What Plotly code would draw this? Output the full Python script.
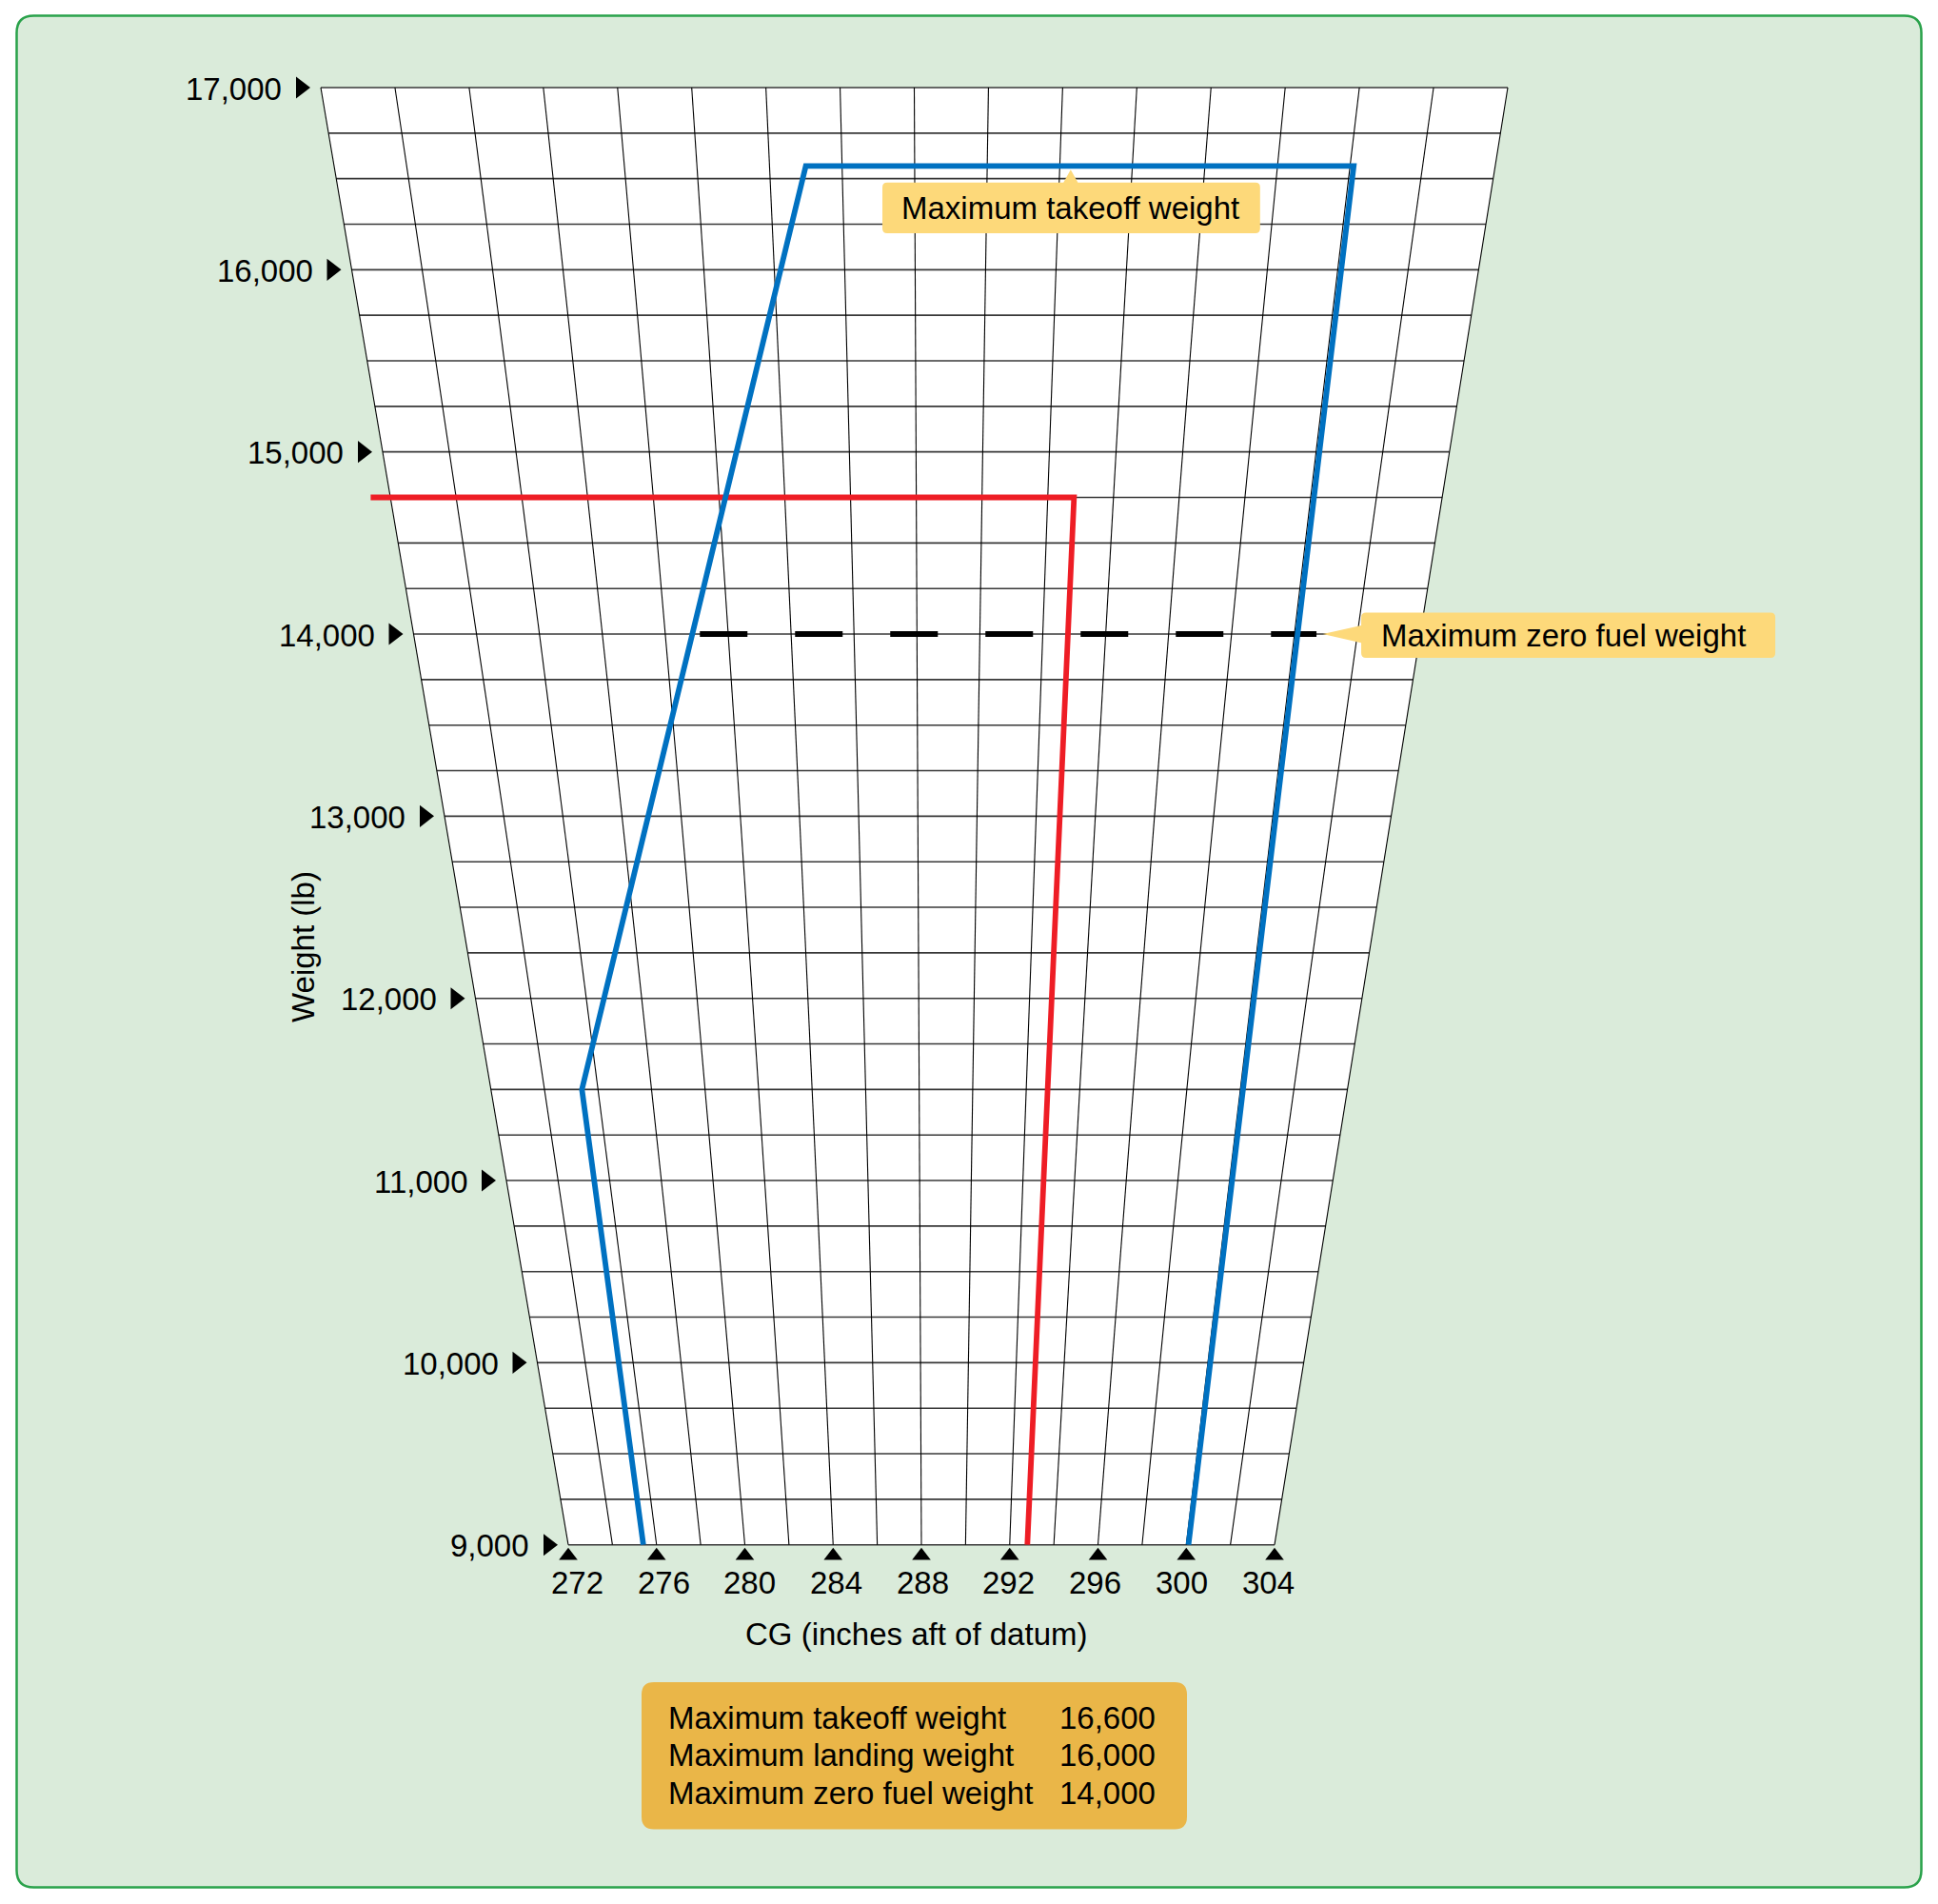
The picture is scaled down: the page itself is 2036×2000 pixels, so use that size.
import plotly.graph_objects as go

# ---------------- data ----------------
cg_tick_values = [272, 276, 280, 284, 288, 292, 296, 300, 304]
weight_tick_values = [9000, 10000, 11000, 12000, 13000, 14000, 15000, 16000, 17000]
grid_cg_values = list(range(272, 305, 2))
grid_weight_values = list(range(9000, 17001, 250))

envelope_cg = [275.4, 275.4, 285.0, 300.1, 300.1]
envelope_weight = [9000, 11500, 16570, 16570, 9000]

landing_cg = [271.4, 292.8, 292.8]
landing_weight = [14750, 14750, 9000]

zero_fuel_cg = [281.1, 300.7]
zero_fuel_weight = [14000, 14000]

takeoff_callout_cg = 292.3
takeoff_callout_weight = 16570

limit_labels = ["Maximum takeoff weight", "Maximum landing weight", "Maximum zero fuel weight"]
limit_values = [16600, 16000, 14000]

# ---------------- layout geometry ----------------
# the page body has an 8px margin, so the figure is placed 8px in from the window corner
OFF = 8
FIG_W, FIG_H = 2020, 1984
CG_MIN, CG_MAX = 272, 304
W_MIN, W_MAX = 9000, 17000
BOTTOM_PX_Y, TOP_PX_Y = 1622.7 - OFF, 92.0 - OFF
BOTTOM_LEFT, BOTTOM_WIDTH = 597.0 - OFF, 742.0
TOP_LEFT, TOP_WIDTH = 337.0 - OFF, 1247.0

PX_PER_IN = BOTTOM_WIDTH / (CG_MAX - CG_MIN)
PX_PER_LB = (BOTTOM_PX_Y - TOP_PX_Y) / (W_MAX - W_MIN)

x_range = [CG_MIN - BOTTOM_LEFT / PX_PER_IN, CG_MIN + (FIG_W - BOTTOM_LEFT) / PX_PER_IN]
y_range = [W_MIN - (FIG_H - BOTTOM_PX_Y) / PX_PER_LB, W_MIN + BOTTOM_PX_Y / PX_PER_LB]

FONT = "Liberation Sans, Arial, Helvetica, sans-serif"
BLUE = "#0071C1"
RED = "#EE1D25"
PANEL_FILL = "#DAEBDA"
PANEL_LINE = "#2AA24B"
CALLOUT = "#FDD97A"
INFO_BOX = "#EAB648"


def skew_x(cg, w):
    """Map (cg, weight) to the horizontal axis of the trapezoidal chart."""
    t = (w - W_MIN) / (W_MAX - W_MIN)
    left = BOTTOM_LEFT + (TOP_LEFT - BOTTOM_LEFT) * t
    width = BOTTOM_WIDTH + (TOP_WIDTH - BOTTOM_WIDTH) * t
    px = left + (cg - CG_MIN) / (CG_MAX - CG_MIN) * width
    return CG_MIN + (px - BOTTOM_LEFT) / PX_PER_IN


def px_to_x(px):
    return px / PX_PER_IN


def px_to_y(py):
    return py / PX_PER_LB


def PX(v):
    return (v - OFF) / FIG_W


def PY(v):
    return 1 - (v - OFF) / FIG_H


def paper_round_rect(x0, y0, x1, y1, r):
    X, Y = PX, PY
    p = [
        f"M{X(x0 + r)},{Y(y0)}", f"L{X(x1 - r)},{Y(y0)}", f"Q{X(x1)},{Y(y0)} {X(x1)},{Y(y0 + r)}",
        f"L{X(x1)},{Y(y1 - r)}", f"Q{X(x1)},{Y(y1)} {X(x1 - r)},{Y(y1)}",
        f"L{X(x0 + r)},{Y(y1)}", f"Q{X(x0)},{Y(y1)} {X(x0)},{Y(y1 - r)}",
        f"L{X(x0)},{Y(y0 + r)}", f"Q{X(x0)},{Y(y0)} {X(x0 + r)},{Y(y0)}", "Z",
    ]
    return " ".join(p)


fig = go.Figure()

# white trapezoid
tx = [skew_x(CG_MIN, W_MIN), skew_x(CG_MAX, W_MIN), skew_x(CG_MAX, W_MAX), skew_x(CG_MIN, W_MAX), skew_x(CG_MIN, W_MIN)]
ty = [W_MIN, W_MIN, W_MAX, W_MAX, W_MIN]
fig.add_trace(go.Scatter(x=tx, y=ty, fill="toself", fillcolor="white", mode="lines",
                         line=dict(width=0), hoverinfo="skip", showlegend=False))

# horizontal grid lines
hx, hy = [], []
for w in grid_weight_values:
    hx += [skew_x(CG_MIN, w), skew_x(CG_MAX, w), None]
    hy += [w, w, None]
fig.add_trace(go.Scatter(x=hx, y=hy, mode="lines", line=dict(color="#383838", width=1.6),
                         hoverinfo="skip", showlegend=False))

# vertical (constant CG) grid lines
vx, vy = [], []
for c in grid_cg_values:
    vx += [skew_x(c, W_MIN), skew_x(c, W_MAX), None]
    vy += [W_MIN, W_MAX, None]
fig.add_trace(go.Scatter(x=vx, y=vy, mode="lines", line=dict(color="black", width=1.1),
                         hoverinfo="skip", showlegend=False))

# maximum zero fuel weight (dashed)
fig.add_trace(go.Scatter(x=[skew_x(c, w) for c, w in zip(zero_fuel_cg, zero_fuel_weight)], y=zero_fuel_weight,
                         mode="lines", line=dict(color="black", width=6, dash="50px,50px"),
                         hoverinfo="skip", showlegend=False))

# landing limit (red)
fig.add_trace(go.Scatter(x=[skew_x(c, w) for c, w in zip(landing_cg, landing_weight)], y=landing_weight,
                         mode="lines", line=dict(color=RED, width=5.8),
                         hoverinfo="skip", showlegend=False))

# CG envelope (blue)
fig.add_trace(go.Scatter(x=[skew_x(c, w) for c, w in zip(envelope_cg, envelope_weight)], y=envelope_weight,
                         mode="lines", line=dict(color=BLUE, width=5.8),
                         hoverinfo="skip", showlegend=False))

# y tick triangles
fig.add_trace(go.Scatter(x=[skew_x(CG_MIN, w) - px_to_x(21) for w in weight_tick_values], y=weight_tick_values,
                         mode="markers", marker=dict(symbol="triangle-right", size=20, color="black"),
                         hoverinfo="skip", showlegend=False))

# x tick triangles
fig.add_trace(go.Scatter(x=[skew_x(c, W_MIN) for c in cg_tick_values], y=[W_MIN - px_to_y(11.5)] * len(cg_tick_values),
                         mode="markers", marker=dict(symbol="triangle-up", size=17, color="black"),
                         hoverinfo="skip", showlegend=False))

annotations = []
for w in weight_tick_values:
    annotations.append(dict(x=skew_x(CG_MIN, w), y=w, xref="x", yref="y", text=f"{w:,}",
                            xanchor="right", yanchor="middle", xshift=-39, yshift=-1, showarrow=False,
                            font=dict(size=33, color="black", family=FONT)))

LABEL_ROW_LEFT, LABEL_ROW_WIDTH = 606.3 - OFF, 725.7
for c in cg_tick_values:
    px = LABEL_ROW_LEFT + (c - CG_MIN) / (CG_MAX - CG_MIN) * LABEL_ROW_WIDTH
    annotations.append(dict(x=CG_MIN + px_to_x(px - BOTTOM_LEFT), y=W_MIN, xref="x", yref="y", text=str(c),
                            xanchor="center", yanchor="middle", yshift=-40, showarrow=False,
                            font=dict(size=33, color="black", family=FONT)))

annotations.append(dict(x=PX(962), y=PY(1716), xref="paper", yref="paper",
                        text="CG (inches aft of datum)", showarrow=False, xanchor="center", yanchor="middle",
                        font=dict(size=33, color="black", family=FONT)))
annotations.append(dict(x=PX(318), y=PY(995), xref="paper", yref="paper",
                        text="Weight (lb)", textangle=-90, showarrow=False, xanchor="center", yanchor="middle",
                        font=dict(size=33, color="black", family=FONT)))

shapes = []
# background panel
shapes.append(dict(type="path", xref="paper", yref="paper", layer="below",
                   path=paper_round_rect(17.5, 16.5, 2018.5, 1982.5, 18),
                   fillcolor=PANEL_FILL, line=dict(color=PANEL_LINE, width=2.5)))

# takeoff callout (pixel offsets relative to anchor point on the envelope, y up)
ax_t = skew_x(takeoff_callout_cg, takeoff_callout_weight)
L, R, T, B, r = -197.8, 199.0, -17.4, -70.7, 5
tpath = (f"M{L + r},{T} L-7.6,{T} L0,-4 L7.6,{T} L{R - r},{T} Q{R},{T} {R},{T - r} "
         f"L{R},{B + r} Q{R},{B} {R - r},{B} L{L + r},{B} Q{L},{B} {L},{B + r} "
         f"L{L},{T - r} Q{L},{T} {L + r},{T} Z")
shapes.append(dict(type="path", xref="x", yref="y", xsizemode="pixel", ysizemode="pixel",
                   xanchor=ax_t, yanchor=takeoff_callout_weight, path=tpath,
                   fillcolor=CALLOUT, line=dict(width=0), layer="above"))
annotations.append(dict(x=ax_t, y=takeoff_callout_weight, xref="x", yref="y", text="Maximum takeoff weight",
                        xshift=0, yshift=-44, showarrow=False, xanchor="center", yanchor="middle",
                        font=dict(size=33, color="black", family=FONT)))

# zero fuel callout
ax_z = skew_x(zero_fuel_cg[-1], zero_fuel_weight[-1])
L, R, T, B, r = 47.0, 482.0, 22.4, -25.0, 5
zpath = (f"M{L + r},{T} L{R - r},{T} Q{R},{T} {R},{T - r} L{R},{B + r} Q{R},{B} {R - r},{B} "
         f"L{L + r},{B} Q{L},{B} {L},{B + r} L{L},-9.3 L6.6,0 L{L},9 L{L},{T - r} Q{L},{T} {L + r},{T} Z")
shapes.append(dict(type="path", xref="x", yref="y", xsizemode="pixel", ysizemode="pixel",
                   xanchor=ax_z, yanchor=zero_fuel_weight[-1], path=zpath,
                   fillcolor=CALLOUT, line=dict(width=0), layer="above"))
annotations.append(dict(x=ax_z, y=zero_fuel_weight[-1], xref="x", yref="y", text="Maximum zero fuel weight",
                        xshift=259, yshift=-1, showarrow=False, xanchor="center", yanchor="middle",
                        font=dict(size=33, color="black", family=FONT)))

# info box
shapes.append(dict(type="path", xref="paper", yref="paper", layer="above",
                   path=paper_round_rect(674, 1767, 1247, 1921.5, 13),
                   fillcolor=INFO_BOX, line=dict(width=0)))
row_y = [1804, 1843.5, 1883]
for name, val, yy in zip(limit_labels, limit_values, row_y):
    annotations.append(dict(x=PX(700), y=PY(yy), xref="paper", yref="paper", text=name,
                            xanchor="left", yanchor="middle", showarrow=False,
                            font=dict(size=33, color="black", family=FONT)))
    annotations.append(dict(x=PX(1216), y=PY(yy), xref="paper", yref="paper", text=f"{val:,}",
                            xanchor="right", yanchor="middle", showarrow=False,
                            font=dict(size=33, color="black", family=FONT)))

fig.update_layout(
    width=FIG_W, height=FIG_H, autosize=False,
    margin=dict(l=0, r=0, t=0, b=0, pad=0),
    paper_bgcolor="white", plot_bgcolor="rgba(0,0,0,0)",
    xaxis=dict(range=x_range, visible=False, fixedrange=True),
    yaxis=dict(range=y_range, visible=False, fixedrange=True),
    shapes=shapes, annotations=annotations, showlegend=False,
    font=dict(family=FONT),
)

fig.write_html("out.html")
